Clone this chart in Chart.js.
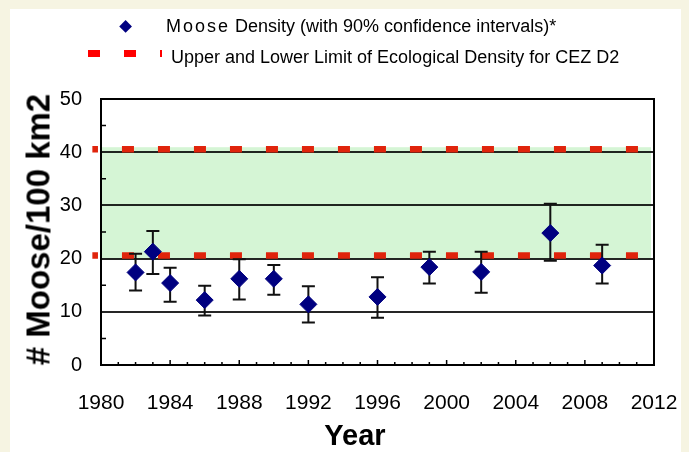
<!DOCTYPE html>
<html>
<head>
<meta charset="utf-8">
<script src="https://cdn.jsdelivr.net/npm/chart.js@4.4.1/dist/chart.umd.min.js"></script>
<style>
  html, body { margin: 0; padding: 0; }
  body {
    width: 689px; height: 452px; position: relative; overflow: hidden;
    background: #f6f4e2;
    font-family: "Liberation Sans", Arial, sans-serif; color: #000;
  }
  #panel { position: absolute; left: 10px; top: 9px; width: 671px; height: 443px; background: #fff; }
  #wrap { position: absolute; left: 0; top: 0; width: 689px; height: 452px; }
  .lg-text { position: absolute; font-size: 18px; line-height: 18px; white-space: nowrap; }
  .lg-text .spaced { letter-spacing: 2px; }
  .lg-diamond {
    position: absolute; left: 121px; top: 22px; width: 9.2px; height: 9.2px;
    background: #000080; transform: rotate(45deg);
  }
  .lg-dash { position: absolute; top: 50px; height: 7px; background: #ff0000; }
  .y-title {
    position: absolute; left: -112px; top: 213px; width: 300px; height: 33px;
    line-height: 33px; font-size: 33px; font-weight: bold; text-align: center;
    white-space: nowrap; transform: rotate(-90deg);
  }
  .x-title {
    position: absolute; left: 255px; top: 421px; width: 200px;
    line-height: 29px; font-size: 29px; font-weight: bold; text-align: center;
  }
</style>
</head>
<body>
<div id="panel"></div>
<div id="wrap"><canvas id="mooseChart"></canvas></div>

<div class="lg-diamond"></div>
<div class="lg-text" style="left:166px; top:17px;"><span class="spaced">Moose</span> Density (with 90% confidence intervals)*</div>
<div class="lg-dash" style="left:88px; width:12px;"></div>
<div class="lg-dash" style="left:124px; width:12px;"></div>
<div class="lg-dash" style="left:160px; width:2px;"></div>
<div class="lg-text" style="left:171px; top:48px;">Upper and Lower Limit of Ecological Density for CEZ D2</div>

<div class="y-title"># Moose/100 km2</div>
<div class="x-title">Year</div>

<script>
// survey years and moose density (# / 100 km2) with 90% CI
const years = [1982, 1983, 1984, 1986, 1988, 1990, 1992, 1996, 1999, 2002, 2006, 2009];
const density = [17.4, 21.3, 15.4, 12.2, 16.2, 16.2, 11.4, 12.8, 18.4, 17.5, 24.8, 18.7];
const lowerCI = [14.0, 17.1, 11.9, 9.3, 12.3, 13.2, 8.0, 8.9, 15.3, 13.6, 19.6, 15.3];
const upperCI = [20.9, 25.2, 18.3, 14.9, 19.9, 18.8, 14.8, 16.5, 21.3, 21.3, 30.3, 22.6];

// ecological density limits for CEZ D2
const limitYears = [1979.5, 2012];
const lowerLimit = 20;
const upperLimit = 40;

// axis ranges
const xMin = 1980, xMax = 2012, xStep = 4;
const yMin = 0, yMax = 50, yStep = 10;

const chartDecor = {
    id: 'chartDecor',
    beforeDraw(chart) {
        const { ctx, chartArea: a, scales: { y } } = chart;
        const top = y.getPixelForValue(upperLimit) - 5;
        const bottom = y.getPixelForValue(lowerLimit);
        ctx.save();
        ctx.fillStyle = '#d5f5d5';
        ctx.fillRect(a.left, top, a.right - a.left - 3, bottom - top);
        ctx.restore();
    },
    beforeDatasetDraw(chart, args) {
        const { ctx, scales: { x, y } } = chart;
        if (args.index > 0) {
            // limit lines sit a little above the gridlines in the original
            ctx.save();
            ctx.translate(0, -3);
            return;
        }
        // error bars, under the diamonds
        ctx.save();
        ctx.strokeStyle = '#111';
        ctx.lineWidth = 2;
        years.forEach((yr, i) => {
            const px = x.getPixelForValue(yr);
            const lo = y.getPixelForValue(lowerCI[i]);
            const hi = y.getPixelForValue(upperCI[i]);
            ctx.beginPath();
            ctx.moveTo(px, lo);
            ctx.lineTo(px, hi);
            ctx.moveTo(px - 6.5, lo);
            ctx.lineTo(px + 6.5, lo);
            ctx.moveTo(px - 6.5, hi);
            ctx.lineTo(px + 6.5, hi);
            ctx.stroke();
        });
        ctx.restore();
    },
    afterDatasetDraw(chart, args) {
        if (args.index > 0) chart.ctx.restore();
    },
    afterDraw(chart) {
        const { ctx, chartArea: a, scales: { x, y } } = chart;
        ctx.save();
        ctx.strokeStyle = '#000';
        ctx.lineWidth = 2;
        ctx.strokeRect(a.left, a.top, a.right - a.left, a.bottom - a.top);
        // inward tick marks
        ctx.lineWidth = 1.5;
        ctx.beginPath();
        for (let yr = xMin + 1; yr < xMax; yr++) {
            const px = x.getPixelForValue(yr);
            const len = (yr % xStep === 0) ? 5 : 3;
            ctx.moveTo(px, a.bottom);
            ctx.lineTo(px, a.bottom - len);
        }
        for (let v = yMin + yStep / 2; v < yMax; v += yStep) {
            const py = y.getPixelForValue(v);
            ctx.moveTo(a.left, py);
            ctx.lineTo(a.left + 5, py);
        }
        ctx.stroke();
        ctx.restore();
    }
};

const limitLine = (value) => ({
    type: 'line',
    data: limitYears.map(v => ({ x: v, y: value })),
    borderColor: '#e0240c',
    borderWidth: 6.5,
    borderDash: [12, 24],
    borderDashOffset: 6.4,
    borderCapStyle: 'butt',
    pointRadius: 0,
    clip: false,
    fill: false
});

new Chart(document.getElementById('mooseChart'), {
    type: 'scatter',
    data: {
        datasets: [
            {
                label: 'Moose Density (with 90% confidence intervals)*',
                data: years.map((yr, i) => ({ x: yr, y: density[i] })),
                pointStyle: 'rectRot',
                pointRadius: 8.5,
                pointHoverRadius: 8.5,
                backgroundColor: '#000080',
                borderColor: '#000080',
                borderWidth: 1
            },
            { label: 'Upper Limit', ...limitLine(upperLimit) },
            { label: 'Lower Limit', ...limitLine(lowerLimit) }
        ]
    },
    options: {
        responsive: true,
        maintainAspectRatio: false,
        animation: false,
        layout: { padding: { left: 0, top: 99, right: 35, bottom: 0 } },
        plugins: {
            legend: { display: false },
            tooltip: { enabled: false }
        },
        scales: {
            x: {
                type: 'linear',
                min: xMin,
                max: xMax,
                afterFit: (scale) => {
                    scale.height = 87;
                    scale.paddingLeft = 0;
                    scale.paddingRight = 0;
                },
                border: { display: false },
                grid: { display: false, drawTicks: false },
                ticks: {
                    stepSize: xStep,
                    color: '#000',
                    padding: 26,
                    font: { family: 'Liberation Sans', size: 21 },
                    callback: (v) => String(v)
                }
            },
            y: {
                min: yMin,
                max: yMax,
                afterFit: (scale) => {
                    scale.width = 101;
                    scale.paddingTop = 0;
                    scale.paddingBottom = 0;
                },
                border: { display: false },
                grid: {
                    drawTicks: false,
                    lineWidth: 2,
                    color: (c) => (c.tick.value === yMin || c.tick.value === yMax) ? 'rgba(0,0,0,0)' : 'rgba(0,0,0,0.85)'
                },
                ticks: {
                    stepSize: yStep,
                    color: '#000',
                    padding: 19,
                    font: { family: 'Liberation Sans', size: 20 }
                }
            }
        }
    },
    plugins: [chartDecor]
});
</script>
</body>
</html>
